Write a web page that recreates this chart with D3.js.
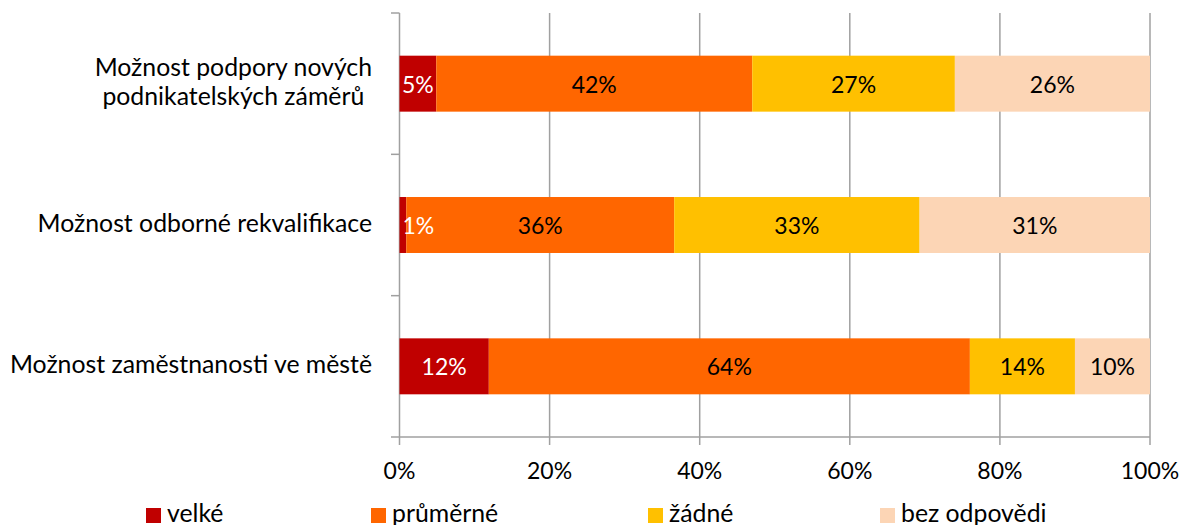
<!DOCTYPE html>
<html><head><meta charset="utf-8">
<script src="https://cdn.jsdelivr.net/npm/d3@7"></script>
<style>body{margin:0;background:#fff}svg{display:block}</style>
</head><body>
<svg id="c" width="1184" height="525"></svg>
<script>
const categories = [
  ["Možnost podpory nových", "podnikatelských záměrů"],
  ["Možnost odborné rekvalifikace"],
  ["Možnost zaměstnanosti ve městě"]
];
const seriesNames = ["velké", "průměrné", "žádné", "bez odpovědi"];
const velke     = [4.9, 0.9, 11.9];
const prumerne  = [42.1, 35.7, 64.1];
const zadne     = [27.0, 32.7, 14.0];
const bezOdpovedi = [26.0, 30.7, 10.0];
const tickValues = [0, 20, 40, 60, 80, 100];
const colors = ["#C00000", "#FF6600", "#FFC000", "#FCD5B5"];
const labelColors = ["#fff", "#000", "#000", "#000"];

const FONT = "Lato, 'Open Sans', sans-serif";
const FS = 23;     // numbers
const FSL = 24.8;  // category & legend text
const svg = d3.select("#c");
const x = d3.scaleLinear().domain([0, 100]).range([399.5, 1150]);
const y = d3.scaleBand().domain(d3.range(categories.length)).range([13, 437]).paddingInner(0.604).paddingOuter(0.302);
const series = [velke, prumerne, zadne, bezOdpovedi];
const GRID = "#a0a0a0";

// gridlines
svg.append("g").selectAll("line").data(tickValues.slice(1)).join("line")
  .attr("x1", d => x(d)).attr("x2", d => x(d)).attr("y1", 13).attr("y2", 445)
  .attr("stroke", GRID).attr("stroke-width", 1.5);

// axes
svg.append("line").attr("x1", x(0)).attr("x2", x(0)).attr("y1", 13).attr("y2", 445)
  .attr("stroke", GRID).attr("stroke-width", 1.5);
svg.append("line").attr("x1", 391).attr("x2", x(100)).attr("y1", 437).attr("y2", 437)
  .attr("stroke", GRID).attr("stroke-width", 1.5);
const bounds = [13].concat(d3.range(categories.length).map(i => y(i) + y.bandwidth() + y.step() * y.paddingInner() / 2));
svg.append("g").selectAll("line").data(bounds.slice(0, 3)).join("line")
  .attr("x1", 391).attr("x2", x(0)).attr("y1", d => d).attr("y2", d => d)
  .attr("stroke", GRID).attr("stroke-width", 1.5);

// tick labels
svg.append("g").selectAll("text").data(tickValues).join("text")
  .attr("x", d => x(d)).attr("y", 479).attr("text-anchor", "middle")
  .style("font-family", FONT).style("font-size", FS + "px").attr("fill", "#000")
  .text(d => d + "%");

// bars
categories.forEach((c, i) => {
  let acc = 0;
  series.forEach((s, k) => {
    const v = s[i];
    const x0 = x(acc), x1 = x(acc + v);
    svg.append("rect").attr("x", x0).attr("y", y(i)).attr("width", x1 - x0).attr("height", y.bandwidth())
      .attr("fill", colors[k]);
    acc += v;
  });
  acc = 0;
  series.forEach((s, k) => {
    const v = s[i];
    const x0 = x(acc), x1 = x(acc + v);
    const t = svg.append("text").attr("y", y(i) + y.bandwidth() / 2 + 9)
      .style("font-family", FONT).style("font-size", FS + "px")
      .attr("fill", labelColors[k]).text(Math.round(v) + "%");
    const w = t.node().getComputedTextLength();
    if (w > x1 - x0) t.attr("x", x0 + 3).attr("text-anchor", "start");
    else t.attr("x", (x0 + x1) / 2).attr("text-anchor", "middle");
    acc += v;
  });
  // category labels
  const cy = y(i) + y.bandwidth() / 2;
  const g = svg.append("g");
  const lh = 29;
  const texts = c.map((line, j) => g.append("text")
    .attr("y", cy + 7 + (j - (c.length - 1) / 2) * lh)
    .style("font-family", FONT).style("font-size", FSL + "px").attr("fill", "#000")
    .attr("text-anchor", "middle").text(line));
  const maxW = d3.max(texts, t => t.node().getComputedTextLength());
  texts.forEach(t => t.attr("x", 372 - maxW / 2));
});

// legend
const legX = [146, 371, 648, 880];
seriesNames.forEach((n, k) => {
  svg.append("rect").attr("x", legX[k]).attr("y", 508).attr("width", 15).attr("height", 15).attr("fill", colors[k]);
  svg.append("text").attr("x", legX[k] + 21).attr("y", 522)
    .style("font-family", FONT).style("font-size", FSL + "px").attr("fill", "#000").text(n);
});
</script>
</body></html>
